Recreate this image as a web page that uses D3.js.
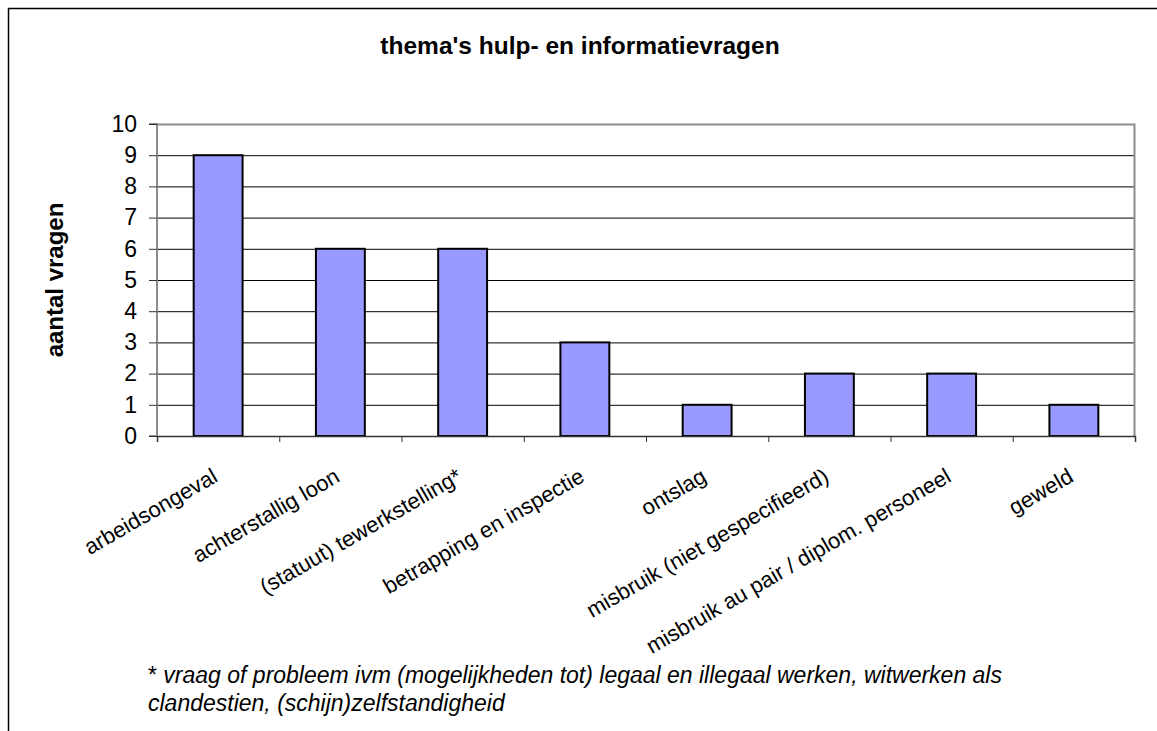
<!DOCTYPE html>
<html>
<head>
<meta charset="utf-8">
<script src="https://cdnjs.cloudflare.com/ajax/libs/d3/7.8.5/d3.min.js"></script>
<style>
  body { margin: 0; background: #fff; }
  svg { display: block; font-family: Arial, "Liberation Sans", sans-serif; }
</style>
</head>
<body>
<svg id="chart" width="1157" height="731"></svg>
<script>
// the data
const categories = [
    "arbeidsongeval",
    "achterstallig loon",
    "(statuut) tewerkstelling*",
    "betrapping en inspectie",
    "ontslag",
    "misbruik (niet gespecifieerd)",
    "misbruik au pair / diplom. personeel",
    "geweld"
];
const values = [9, 6, 6, 3, 1, 2, 2, 1];
const yTicks = [0, 1, 2, 3, 4, 5, 6, 7, 8, 9, 10];
const titleText = "thema's hulp- en informatievragen";
const yTitle = "aantal vragen";
const footnote = [
    "vraag of probleem ivm (mogelijkheden tot) legaal en illegaal werken, witwerken als",
    "clandestien, (schijn)zelfstandigheid"
];

let svg = d3.select("#chart");

// outer chart border (runs off the page right and bottom)
svg.append("rect")
    .attr("x", 8.5).attr("y", 8.5)
    .attr("width", 1200).attr("height", 800)
    .attr("fill", "none")
    .attr("stroke", "#000")
    .attr("stroke-width", 1.5);

let plotLeft = 157, plotRight = 1135, plotTop = 124, plotBottom = 436;

let xScale = d3.scaleBand()
    .domain(categories)
    .range([plotLeft, plotRight])
    .paddingInner(0.6).paddingOuter(0.3);

// scale for tick positions (category boundaries)
let xBoundaries = d3.scaleLinear()
    .domain([0, categories.length])
    .range([plotLeft, plotRight]);

let yScale = d3.scaleLinear()
    .domain([0, 10])
    .range([plotBottom, plotTop]);

// gridlines
svg.append("g")
    .selectAll("line")
    .data(yTicks.filter(d => d > 0 && d < 10))
    .enter().append("line")
    .attr("x1", plotLeft).attr("x2", plotRight)
    .attr("y1", d => yScale(d) + 0.5).attr("y2", d => yScale(d) + 0.5)
    .attr("stroke", "#000")
    .attr("stroke-width", 1);

// plot border top and right (gray)
svg.append("path")
    .attr("d", "M" + plotLeft + "," + (plotTop + 0.5) + "H" + (plotRight - 0.5) + "V" + plotBottom)
    .attr("fill", "none")
    .attr("stroke", "#8c8c8c")
    .attr("stroke-width", 2);

// bars
svg.append("g")
    .selectAll("rect")
    .data(values)
    .enter().append("rect")
    .attr("x", (d, i) => xScale(categories[i]))
    .attr("y", d => yScale(d))
    .attr("width", xScale.bandwidth())
    .attr("height", d => plotBottom - yScale(d))
    .attr("fill", "#9999ff")
    .attr("stroke", "#000")
    .attr("stroke-width", 2);

// y axis
let yAxis = d3.axisLeft(yScale)
    .tickValues(yTicks)
    .tickSize(8)
    .tickPadding(12)
    .tickFormat(d3.format("d"));

let yg = svg.append("g")
    .attr("transform", "translate(" + plotLeft + ",0)")
    .call(yAxis);
yg.select(".domain").attr("stroke", "#8c8c8c").attr("stroke-width", 2)
    .attr("d", "M-8," + plotTop + "H0V" + plotBottom + "H-8");
yg.selectAll(".tick line").attr("stroke", "#333");
yg.selectAll("text")
    .attr("font-size", 23)
    .attr("font-family", "Arial, 'Liberation Sans', sans-serif")
    .attr("fill", "#000");

// x axis line and ticks at category boundaries
let xAxis = d3.axisBottom(xBoundaries)
    .tickValues(d3.range(categories.length + 1))
    .tickSize(6)
    .tickFormat("");
let xg = svg.append("g")
    .attr("transform", "translate(0," + plotBottom + ")")
    .call(xAxis);
xg.select(".domain").attr("stroke", "#333").attr("stroke-width", 1.5);
xg.selectAll(".tick line").attr("stroke", "#333");

// rotated category labels
svg.append("g")
    .selectAll("text")
    .data(categories)
    .enter().append("text")
    .attr("transform", d => "translate(" + (xScale(d) + xScale.bandwidth() / 2 - 3) + "," + (plotBottom + 38) + ") rotate(-30)")
    .attr("text-anchor", "end")
    .attr("dy", "0.35em")
    .attr("font-size", 22)
    .text(d => d);

// title
svg.append("text")
    .attr("x", 580).attr("y", 54)
    .attr("text-anchor", "middle")
    .attr("font-size", 24.5)
    .attr("font-weight", "bold")
    .text(titleText);

// y axis title
svg.append("text")
    .attr("transform", "translate(63," + ((plotTop + plotBottom) / 2) + ") rotate(-90)")
    .attr("text-anchor", "middle")
    .attr("font-size", 24)
    .attr("font-weight", "bold")
    .text(yTitle);

// footnote
let fn = svg.append("g")
    .selectAll("text")
    .data(footnote)
    .enter().append("text")
    .attr("x", 148)
    .attr("y", (d, i) => 683 + i * 28)
    .attr("font-size", 23);
fn.filter((d, i) => i === 0).append("tspan").text("* ");
fn.append("tspan")
    .attr("font-style", "italic")
    .text(d => d);
</script>
</body>
</html>
